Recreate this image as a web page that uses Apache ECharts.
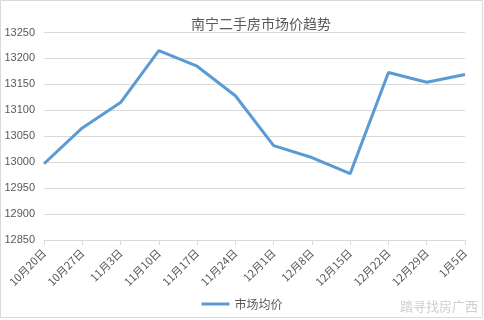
<!DOCTYPE html>
<html>
<head>
<meta charset="utf-8">
<script src="https://cdn.jsdelivr.net/npm/echarts@6/dist/echarts.min.js"></script>
<style>
html,body{margin:0;padding:0;background:#fff;}
#c{width:484px;height:320px;}
</style>
</head>
<body>
<div id="c"></div>
<script>
const categories = ['10月20日','10月27日','11月3日','11月10日','11月17日','11月24日','12月1日','12月8日','12月15日','12月22日','12月29日','1月5日'];
const prices = [12997, 13066, 13115, 13215, 13185, 13128, 13032, 13009, 12978, 13173, 13154, 13169];
const seriesName = '市场均价';
const titleText = '南宁二手房市场价趋势';
const watermarkText = '踏寻找房广西';

const chart = echarts.init(document.getElementById('c'));
chart.setOption({
  animation: false,
  backgroundColor: '#fff',
  graphic: [
    {type:'rect', shape:{x:0.5,y:0.5,width:482,height:317}, style:{fill:'none',stroke:'#d9d9d9',lineWidth:1}},
    {type:'text', right:6, bottom:7, style:{text:watermarkText, fill:'#cfcfcf', font:'13px "Noto Sans CJK SC"'}}
  ],
  title: {
    text: titleText,
    left: 256, textAlign: 'center', top: 12,
    textStyle: {fontFamily:'"Noto Sans CJK SC"', fontSize:14, fontWeight:'normal', color:'#595959'}
  },
  legend: {
    bottom: 5, left: 'center',
    itemWidth: 28, itemHeight: 3,
    icon: 'rect',
    textStyle: {fontFamily:'"Noto Sans CJK SC"', fontSize:12, color:'#595959'},
    data: [seriesName]
  },
  grid: {left:44, right:19, top:32.5, bottom:80, containLabel:false},
  xAxis: {
    type:'category', data: categories, boundaryGap:false,
    axisLine:{lineStyle:{color:'#d9d9d9'}},
    axisTick:{show:true, alignWithLabel:true, length:5, lineStyle:{color:'#d9d9d9'}},
    axisLabel:{rotate:45, fontSize:11, color:'#595959', fontFamily:'"Noto Sans CJK SC"', margin:11, interval:0}
  },
  yAxis: {
    type:'value', min:12850, max:13250, interval:50,
    axisLine:{show:false}, axisTick:{show:false},
    axisLabel:{fontSize:11, color:'#595959', fontFamily:'"Liberation Sans"', margin:9, formatter: v => String(v)},
    splitLine:{lineStyle:{color:'#d9d9d9'}}
  },
  series: [{
    name: seriesName, type:'line', data: prices,
    showSymbol:false, symbol:'none',
    lineStyle:{color:'#5b9bd5', width:3},
    itemStyle:{color:'#5b9bd5'}
  }]
});
</script>
</body>
</html>
